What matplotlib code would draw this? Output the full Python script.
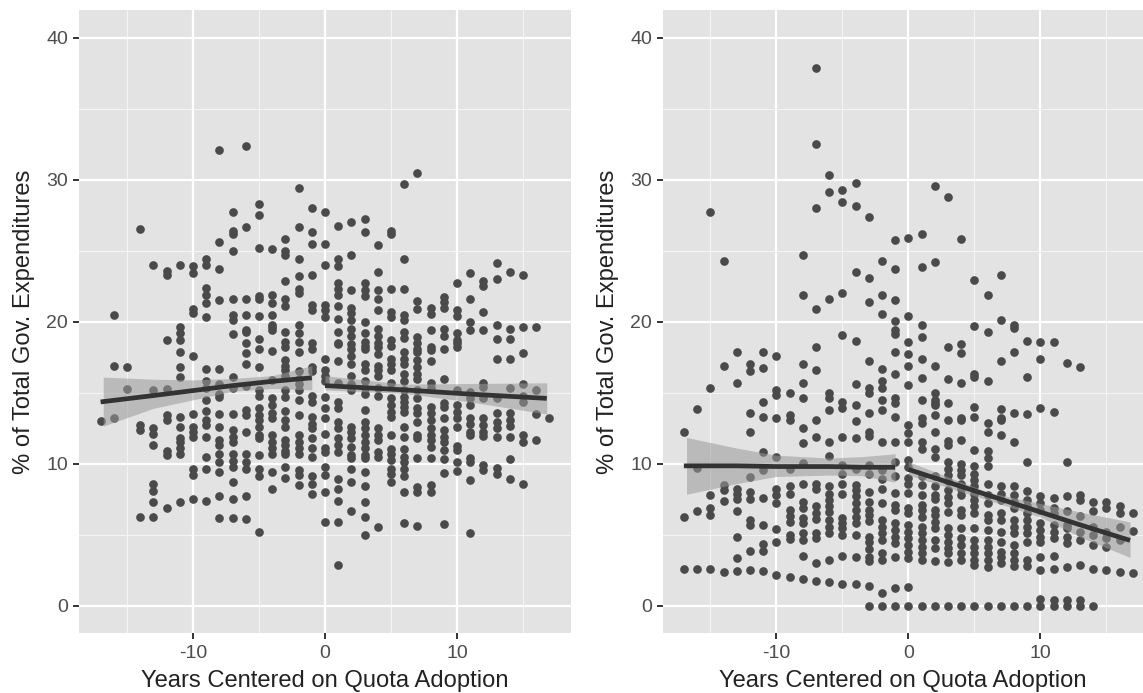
import matplotlib
matplotlib.use('Agg')
import matplotlib.pyplot as plt

plt.rcParams['font.family'] = ['Liberation Sans', 'DejaVu Sans']

years = list(range(-17, 18))

# Left panel, one list of y values per year
left_values = [
    [13.0],
    [20.5, 16.9, 13.2],
    [16.8, 15.25],
    [26.5, 12.7, 12.35, 6.25],
    [24.0, 15.2, 12.5, 12.1, 11.3, 8.6, 8.1, 7.3, 6.25],
    [23.6, 23.3, 18.7, 15.25, 13.4, 13.1, 10.9, 10.6, 6.9],
    [24.0, 19.6, 19.2, 18.7, 17.85, 16.8, 16.1, 13.3, 12.6, 11.8, 11.5, 11.1, 10.7, 7.3],
    [23.9, 23.4, 20.9, 20.6, 17.6, 13.5, 12.6, 12.2, 11.9, 9.65, 9.2, 7.5],
    [24.4, 24.0, 22.4, 21.9, 21.3, 20.3, 16.7, 15.8, 15.3, 14.5, 13.7, 13.1, 12.7, 11.9, 10.5, 9.6, 7.4],
    [32.1, 25.6, 23.7, 21.5, 16.7, 15.6, 14.9, 14.7, 13.5, 12.6, 11.65, 11.3, 10.7, 10.1, 9.4, 7.7, 6.2],
    [27.7, 26.4, 26.2, 25.0, 21.6, 20.5, 20.1, 19.1, 16.1, 15.3, 13.5, 12.4, 11.9, 11.5, 10.7, 10.2, 9.8, 8.7, 7.5, 6.2],
    [32.4, 26.7, 21.6, 20.5, 19.4, 19.3, 18.5, 17.8, 17.0, 15.5, 13.75, 13.4, 12.2, 10.7, 10.1, 9.65, 7.7, 6.1],
    [28.3, 27.5, 25.2, 21.8, 21.6, 20.4, 18.8, 18.1, 16.8, 15.2, 14.8, 13.9, 13.4, 13.1, 12.6, 12.0, 11.8, 10.6, 9.65, 9.1, 5.2],
    [25.15, 21.9, 21.3, 20.5, 19.6, 19.75, 19.45, 17.95, 15.9, 14.6, 14.1, 13.6, 13.2, 12.0, 11.5, 11.1, 10.7, 9.4, 8.2],
    [25.8, 25.0, 24.7, 22.9, 21.6, 21.1, 19.3, 18.6, 18.2, 17.3, 16.9, 16.6, 16.2, 15.2, 14.7, 13.7, 13.1, 12.6, 11.65, 11.3, 10.9, 10.7, 9.8, 9.0],
    [29.4, 26.7, 24.4, 23.2, 22.3, 22.0, 19.75, 19.2, 18.6, 17.9, 16.5, 16.0, 15.6, 15.2, 14.5, 13.4, 12.0, 11.5, 11.1, 10.7, 9.55, 9.2, 8.5],
    [28.0, 26.3, 25.5, 23.3, 21.2, 20.8, 18.5, 18.1, 16.8, 16.5, 14.8, 14.35, 13.3, 12.8, 12.5, 11.8, 11.1, 10.5, 9.1, 8.6, 7.9],
    [27.75, 25.5, 24.0, 21.2, 20.8, 20.3, 17.36, 16.6, 16.2, 15.8, 14.7, 13.9, 13.2, 12.1, 11.1, 10.8, 9.8, 9.2, 8.0, 5.9],
    [26.75, 24.4, 23.95, 22.7, 22.3, 21.9, 21.1, 20.2, 19.3, 18.5, 18.4, 17.2, 15.7, 14.35, 13.9, 12.95, 12.5, 11.8, 11.3, 10.8, 8.9, 8.25, 7.4, 5.9, 2.9],
    [27.0, 24.7, 22.2, 21.0, 20.6, 20.1, 19.5, 19.0, 18.4, 18.1, 17.6, 17.05, 16.2, 15.6, 15.2, 12.6, 12.2, 11.8, 11.2, 10.6, 10.4, 9.6, 8.7, 6.7],
    [27.2, 26.3, 22.7, 22.2, 21.8, 20.0, 19.2, 18.6, 18.3, 18.1, 17.05, 16.6, 15.8, 15.3, 14.9, 13.8, 12.95, 12.5, 12.0, 11.5, 11.1, 10.6, 10.4, 9.4, 8.4, 7.3, 6.25, 5.0],
    [25.4, 23.5, 22.2, 21.6, 20.8, 19.5, 19.0, 18.5, 18.2, 17.75, 16.9, 16.6, 16.2, 15.3, 14.8, 12.5, 12.0, 11.65, 10.8, 10.5, 5.55],
    [26.4, 26.2, 22.3, 20.7, 20.3, 18.7, 18.3, 17.4, 17.05, 16.6, 15.65, 14.6, 14.1, 13.65, 13.3, 12.05, 11.05, 10.7, 10.25, 9.65, 9.3, 8.7],
    [29.7, 24.4, 22.3, 20.5, 20.1, 19.3, 18.85, 17.9, 17.4, 17.05, 16.35, 15.8, 15.2, 14.7, 14.35, 14.0, 13.65, 12.6, 11.9, 11.05, 10.5, 10.1, 9.65, 9.15, 8.0, 5.85],
    [30.5, 21.45, 20.9, 18.95, 18.5, 18.1, 17.9, 17.3, 16.8, 16.35, 16.0, 15.2, 14.6, 13.9, 13.55, 12.95, 12.0, 11.8, 10.4, 8.35, 8.0, 5.6],
    [20.95, 20.55, 19.45, 18.2, 18.0, 17.25, 15.65, 15.3, 14.0, 13.55, 13.05, 12.5, 12.0, 11.65, 11.2, 10.4, 8.5, 8.0],
    [21.75, 21.4, 21.0, 19.5, 19.0, 18.1, 15.95, 14.25, 14.0, 13.2, 12.4, 11.9, 11.55, 10.95, 10.3, 9.35, 5.75],
    [22.75, 20.8, 20.4, 19.2, 18.7, 18.2, 18.5, 15.2, 14.1, 13.65, 13.2, 12.6, 11.25, 11.0, 10.1, 9.5],
    [23.4, 21.6, 20.0, 19.45, 15.05, 14.6, 14.1, 13.2, 12.8, 12.25, 12.0, 10.4, 10.1, 8.85, 5.15],
    [22.9, 22.5, 20.65, 19.45, 15.65, 15.4, 14.6, 13.2, 12.7, 12.25, 11.95, 9.9, 9.55],
    [24.15, 23.0, 19.8, 18.75, 17.35, 14.6, 13.55, 12.95, 12.5, 11.9, 9.7, 9.25],
    [23.5, 19.5, 18.75, 17.4, 15.3, 13.55, 13.05, 12.65, 11.9, 10.3, 8.95],
    [23.3, 19.65, 17.8, 15.6, 14.8, 14.35, 12.0, 11.55, 8.55],
    [19.65, 15.2, 13.5, 11.7],
    [13.2],
]

# Right panel, one list of y values per year
right_values = [
    [12.2, 6.25, 2.6],
    [13.85, 9.7, 6.65, 2.6],
    [27.7, 15.3, 7.8, 6.85, 6.4, 2.6],
    [24.3, 16.9, 8.5, 8.15, 7.4, 2.35],
    [17.85, 15.7, 8.25, 7.9, 7.55, 6.7, 4.85, 3.35, 2.45],
    [17.0, 16.55, 13.55, 12.2, 9.05, 8.0, 7.55, 6.05, 5.65, 3.85, 2.5],
    [17.9, 16.75, 14.35, 13.3, 10.8, 9.55, 7.6, 5.7, 4.35, 3.85, 2.45],
    [17.6, 15.2, 14.85, 13.25, 10.5, 8.25, 7.8, 7.25, 5.4, 4.5, 2.15],
    [14.95, 13.4, 13.1, 9.65, 8.4, 7.9, 6.75, 6.35, 5.9, 5.0, 4.7, 2.0],
    [24.7, 21.85, 17.05, 15.7, 14.65, 12.55, 11.45, 10.05, 8.55, 7.3, 6.85, 6.15, 5.85, 5.1, 4.65, 3.5, 1.9],
    [37.9, 32.5, 28.0, 20.9, 18.2, 16.6, 13.05, 11.85, 8.6, 8.25, 7.0, 6.5, 6.1, 5.1, 4.75, 3.0, 1.75],
    [30.3, 29.1, 21.6, 15.0, 14.6, 13.8, 11.55, 10.55, 8.4, 7.9, 7.45, 7.0, 6.6, 6.05, 5.55, 5.1, 3.25, 1.7],
    [29.3, 28.45, 22.0, 19.05, 14.35, 13.9, 11.85, 9.9, 9.3, 8.6, 7.9, 6.15, 5.8, 5.45, 5.0, 3.5, 1.55],
    [29.75, 28.15, 23.5, 18.65, 15.6, 14.1, 13.0, 11.8, 9.6, 8.5, 8.15, 7.7, 7.2, 6.75, 6.25, 5.8, 5.0, 3.4, 1.55],
    [27.35, 23.1, 21.4, 17.2, 15.3, 14.95, 13.6, 12.25, 11.95, 9.9, 9.3, 8.0, 7.3, 6.75, 6.4, 6.0, 4.85, 4.5, 4.0, 3.45, 3.15, 1.4, 0],
    [24.25, 21.85, 20.55, 16.7, 15.8, 15.3, 14.5, 13.8, 11.5, 9.55, 8.95, 8.2, 7.2, 6.05, 5.55, 5.1, 4.6, 3.7, 3.2, 0.9, 0],
    [25.75, 23.7, 21.5, 20.05, 19.4, 19.15, 17.9, 16.35, 14.6, 14.25, 13.3, 11.55, 10.15, 9.1, 7.95, 7.1, 6.75, 5.8, 5.3, 4.85, 4.4, 3.45, 1.25, 0],
    [25.9, 20.4, 18.6, 17.7, 16.9, 15.55, 12.7, 12.15, 11.55, 10.25, 9.8, 9.0, 8.6, 7.95, 6.85, 6.5, 5.7, 5.2, 4.75, 4.25, 3.8, 3.35, 1.3, 0],
    [26.2, 23.85, 19.75, 18.95, 17.35, 16.05, 14.5, 13.25, 12.85, 11.55, 11.05, 9.1, 8.5, 7.8, 7.1, 6.75, 6.25, 5.55, 5.1, 4.6, 4.15, 3.7, 3.2, 0],
    [29.55, 24.2, 16.9, 15.0, 14.5, 14.1, 13.45, 14.25, 12.2, 11.05, 10.45, 9.1, 8.4, 7.8, 7.55, 6.75, 6.4, 5.9, 5.45, 4.6, 4.05, 3.15, 0],
    [28.75, 18.2, 15.95, 14.25, 13.05, 11.6, 11.3, 10.15, 9.65, 9.2, 8.75, 8.15, 7.65, 7.2, 6.6, 5.45, 5.0, 4.5, 4.05, 3.7, 3.1, 0],
    [25.8, 18.45, 17.8, 15.65, 13.2, 13.05, 11.7, 10.0, 9.55, 9.2, 8.6, 8.25, 7.8, 6.75, 6.4, 5.45, 4.75, 4.25, 3.7, 3.2, 0],
    [22.95, 19.7, 16.3, 16.1, 14.0, 13.3, 11.0, 9.85, 9.3, 8.85, 8.4, 7.9, 7.45, 7.0, 6.5, 5.5, 4.6, 4.15, 3.7, 3.2, 2.85, 0],
    [21.9, 19.3, 15.85, 12.9, 12.2, 10.9, 10.4, 9.85, 8.55, 7.8, 7.2, 6.4, 6.05, 5.3, 4.6, 4.15, 3.7, 3.2, 2.75, 0],
    [23.3, 20.15, 17.2, 13.85, 13.2, 13.1, 12.0, 8.4, 7.9, 7.45, 6.5, 6.05, 5.2, 4.5, 3.8, 3.45, 3.0, 0],
    [19.8, 19.55, 17.85, 13.6, 11.5, 8.4, 7.8, 7.3, 6.85, 6.05, 5.55, 5.1, 4.3, 3.7, 3.2, 2.8, 0],
    [18.65, 16.1, 13.5, 10.15, 8.05, 7.45, 7.0, 6.5, 6.05, 5.55, 5.1, 4.5, 3.2, 2.8, 0],
    [18.55, 17.4, 13.95, 7.7, 7.2, 6.75, 5.8, 5.3, 4.85, 4.5, 3.4, 2.5, 0.5, 0],
    [18.55, 13.65, 7.6, 6.85, 6.5, 5.7, 5.2, 4.75, 3.5, 2.6, 0.4, 0],
    [17.1, 10.15, 7.7, 6.65, 5.7, 5.45, 4.85, 4.4, 2.75, 0.4, 0],
    [16.8, 7.8, 7.45, 6.35, 5.2, 4.6, 2.9, 0.4, 0],
    [7.3, 6.65, 5.55, 5.0, 4.25, 2.6, 0],
    [7.3, 6.85, 5.2, 4.75, 4.15, 2.5],
    [7.05, 6.5, 5.55, 4.6, 2.35],
    [6.5, 5.25, 2.3],
]

# Fit lines and their bands, before and after adoption
left_pre_x = [-16.8, -13, -10, -7, -4, -1]
left_pre_fit = [14.35, 14.8, 15.15, 15.5, 15.8, 16.05]
left_pre_hi = [16.1, 15.95, 15.9, 16.0, 16.2, 16.9]
left_pre_lo = [12.65, 13.9, 14.5, 15.1, 15.3, 15.2]
left_post_x = [0, 6, 11, 16.8]
left_post_fit = [15.5, 15.2, 14.9, 14.6]
left_post_hi = [16.2, 15.6, 15.65, 15.7]
left_post_lo = [15.2, 14.95, 14.35, 13.5]

right_pre_x = [-16.8, -13, -10, -6, -3.5, -1]
right_pre_fit = [9.85, 9.85, 9.8, 9.8, 9.75, 9.75]
right_pre_hi = [11.85, 11.1, 10.6, 10.4, 10.5, 10.7]
right_pre_lo = [7.85, 8.6, 9.1, 9.2, 9.15, 8.7]
right_post_x = [0, 6, 10, 13, 16.8]
right_post_fit = [9.6, 7.8, 6.6, 5.7, 4.6]
right_post_hi = [10.15, 8.0, 7.2, 6.6, 5.9]
right_post_lo = [9.2, 7.45, 6.25, 4.85, 3.4]

x_ticks = [-10, 0, 10]
x_tick_labels = ['-10', '0', '10']
y_ticks = [0, 10, 20, 30, 40]
x_minor = [-15, -5, 5, 15]
y_minor = [5, 15, 25, 35]

fig = plt.figure(figsize=(11.43, 6.93), dpi=100)
W, H = 1143, 693


def make_panel(left_px, right_px, x0_px, values, segments):
    ax = fig.add_axes([left_px / W, 1 - 632.7 / H, (right_px - left_px) / W, 622.7 / H])
    ax.set_facecolor('#E3E3E3')
    ax.set_xlim((left_px - x0_px) / 13.2, (right_px - x0_px) / 13.2)
    ax.set_ylim(-1.9, 41.95)
    for s in ax.spines.values():
        s.set_visible(False)
    ax.set_axisbelow(True)
    for x in x_minor:
        ax.axvline(x, color='#F4F4F4', lw=0.8, zorder=1)
    for y in y_minor:
        ax.axhline(y, color='#F4F4F4', lw=0.8, zorder=1)
    for x in x_ticks:
        ax.axvline(x, color='white', lw=1.6, zorder=1)
    for y in y_ticks:
        ax.axhline(y, color='white', lw=1.6, zorder=1)

    for year, col in zip(years, values):
        ax.scatter([year] * len(col), col, s=39, color='#4A4A4A', linewidths=0, zorder=2)

    for x, fit, hi, lo in segments:
        ax.fill_between(x, lo, hi, color='#999999', alpha=0.55, linewidth=0, zorder=3)
        start = [x[0] - 0.2 if x[0] < 0 else x[0]] + x[1:]
        ax.plot(start, fit, color='#333333', lw=3.4, solid_capstyle='butt', zorder=4)

    ax.set_xticks(x_ticks)
    ax.set_xticklabels(x_tick_labels)
    ax.set_yticks(y_ticks)
    ax.tick_params(length=4, width=1.4, color='#333333', labelcolor='#4D4D4D', labelsize=14)
    ax.tick_params(axis='x', pad=5)
    ax.tick_params(axis='y', pad=4)
    ax.set_xlabel('Years Centered on Quota Adoption', fontsize=17.1, color='#222222', labelpad=5.5)
    ax.set_ylabel('% of Total Gov. Expenditures', fontsize=17.1, color='#222222', labelpad=8)
    return ax


make_panel(79.3, 571, 325, left_values,
           [(left_pre_x, left_pre_fit, left_pre_hi, left_pre_lo),
            (left_post_x, left_post_fit, left_post_hi, left_post_lo)])
make_panel(663.3, 1143, 908.3, right_values,
           [(right_pre_x, right_pre_fit, right_pre_hi, right_pre_lo),
            (right_post_x, right_post_fit, right_post_hi, right_post_lo)])

fig.savefig('out.png', dpi=100)
